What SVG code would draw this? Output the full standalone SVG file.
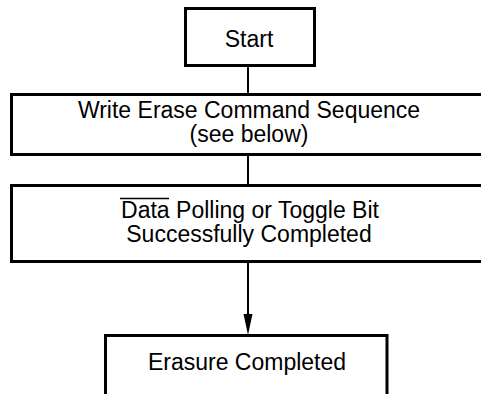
<svg xmlns="http://www.w3.org/2000/svg" width="481" height="394" viewBox="0 0 481 394">
<style>
.box{fill:#fff;stroke:#000;stroke-width:3}
.t{font-family:"Liberation Sans",Arial,sans-serif;font-size:23px;fill:#000;text-anchor:middle}
.c{stroke:#000;stroke-width:2;fill:none}
</style>
<rect width="481" height="394" fill="#fff"/>
<g id="connectors">
<line class="c" x1="248" y1="65" x2="248" y2="94"/>
<line class="c" x1="248" y1="154" x2="248" y2="186"/>
<line class="c" x1="248" y1="261" x2="248" y2="318"/>
<path d="M243.5,314 L252.5,314 L248,335 Z" fill="#000"/>
</g>
<g id="start">
<rect class="box" x="185.5" y="8.5" width="129" height="57"/>
<text class="t" x="249" y="46.5">Start</text>
</g>
<g id="write">
<rect class="box" x="11.5" y="94.5" width="476" height="60"/>
<text class="t" x="249" y="118">Write Erase Command Sequence</text>
<text class="t" x="249" y="142">(see below)</text>
</g>
<g id="polling">
<rect class="box" x="11.5" y="185.5" width="476" height="76"/>
<text class="t" x="250" y="218">Data Polling or Toggle Bit</text>
<line x1="120" y1="198.5" x2="169" y2="198.5" stroke="#000" stroke-width="1.5"/>
<text class="t" x="249" y="242">Successfully Completed</text>
</g>
<g id="erasure">
<rect class="box" x="105.5" y="335.5" width="281.5" height="70"/>
<text class="t" x="247" y="370">Erasure Completed</text>
</g>
</svg>
